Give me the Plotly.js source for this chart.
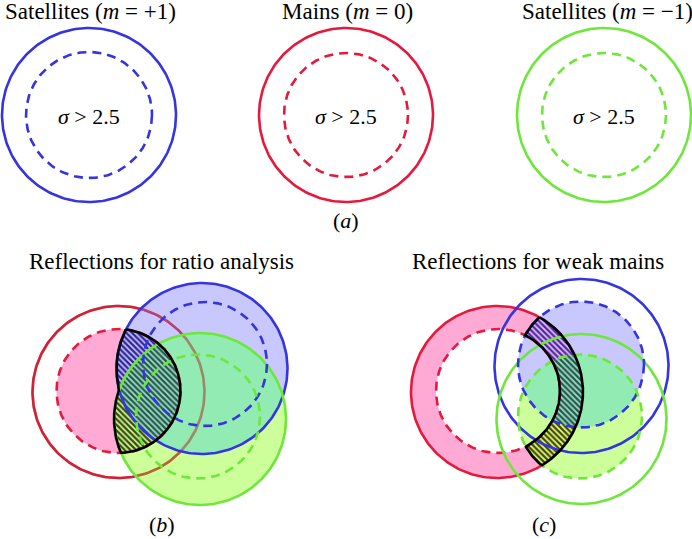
<!DOCTYPE html>
<html><head><meta charset="utf-8">
<script src="https://cdn.plot.ly/plotly-3.0.1.min.js"></script>
<style>html,body{margin:0;padding:0;background:#fff}</style>
</head><body><div id="chart" style="width:692px;height:539px"></div>
<script>
// ---------- data ----------
// Panel (a): three separate circle pairs [cx, cy, r]
const aTitles = ['Satellites (<i>m</i> = +1)', 'Mains (<i>m</i> = 0)', 'Satellites (<i>m</i> = \u22121)'];
const aTitleX = [90, 347, 607];
const aOuter = [[89, 115, 87], [346, 115, 87], [604, 115, 87]];
const aInner = [[89, 115, 63], [346, 115, 62], [604, 115, 62]];
const aKeys = ['blue', 'red', 'green'];
const aInnerLabel = '<i>\u03c3</i> &gt; 2.5';

// Panel (b): reflections for ratio analysis
const bRedOuter = [118.5, 392, 86];
const bRedInner = [118.5, 391, 62];
const bBlueOuter = [202, 368.5, 85.5];
const bBlueInner = [205, 364, 62];
const bGreenOuter = [200, 419, 86];
const bGreenInner = [198, 416.5, 62];

// Panel (c): reflections for weak mains
const cRedOuter = [497, 392, 86];
const cRedInner = [498, 391, 62];
const cBlueOuter = [581.5, 366, 87];
const cBlueInner = [581, 364.5, 63];
const cGreenOuter = [581.5, 419, 85];
const cGreenInner = [580, 416.5, 62];

const panelTitles = ['Reflections for ratio analysis', 'Reflections for weak mains'];
const panelTitleX = [161, 538];
const panelLabels = ['(<i>a</i>)', '(<i>b</i>)', '(<i>c</i>)'];
const panelLabelX = [346, 162, 544];
const panelLabelY = [220, 524, 524];

// ---------- styles ----------
const COL = {blue: '#3434e0', red: '#e6193c', green: '#6ee63a'};
const FILL = {
  pink: '#ffaad4',
  blue: 'rgba(145,145,255,0.5)',
  green: 'rgba(153,255,51,0.5)',
  both: 'rgba(120,240,200,0.55)'
};
const FONT = '"Liberation Serif", "DejaVu Serif", serif';
const LW = 2.6;
const DASH = '9px,6px';

// ---------- helpers ----------
function circlePts(c, n) {
  n = n || 240;
  const x = [], y = [];
  for (let i = 0; i <= n; i++) {
    const t = 2 * Math.PI * i / n;
    x.push(c[0] + c[2] * Math.cos(t));
    y.push(c[1] + c[2] * Math.sin(t));
  }
  return {x, y};
}
function span(c, y) {
  const dy = y - c[1];
  if (Math.abs(dy) >= c[2]) return null;
  const h = Math.sqrt(c[2] * c[2] - dy * dy);
  return [c[0] - h, c[0] + h];
}
function rowSpan(ops, y) {
  let I = [-1e9, 1e9];
  for (const [op, arg] of ops) {
    if (op === 'and') {
      const J = span(arg, y); if (!J) return null;
      I = [Math.max(I[0], J[0]), Math.min(I[1], J[1])];
    } else if (op === 'or') {
      const Js = arg.map(c => span(c, y)).filter(Boolean);
      if (!Js.length) return null;
      const J = [Math.min(...Js.map(j => j[0])), Math.max(...Js.map(j => j[1]))];
      I = [Math.max(I[0], J[0]), Math.min(I[1], J[1])];
    } else {
      const J = span(arg, y);
      if (J && J[1] > I[0] && J[0] < I[1]) {
        const left = [I[0], Math.min(I[1], J[0])];
        const right = [Math.max(I[0], J[1]), I[1]];
        const okL = left[1] - left[0] > 0, okR = right[1] - right[0] > 0;
        if (op === 'minusL') I = okL ? left : (okR ? right : null);
        else I = okR ? right : (okL ? left : null);
        if (!I) return null;
      }
    }
    if (I[1] - I[0] <= 0) return null;
  }
  return I;
}
function region(ops, close) {
  const runs = [];
  let cur = null;
  for (let y = 250; y <= 520; y += 0.25) {
    const I = rowSpan(ops, y);
    if (I) { if (!cur) { cur = []; runs.push(cur); } cur.push([y, I]); }
    else cur = null;
  }
  const x = [], yy = [];
  runs.forEach((run, k) => {
    if (k > 0) { x.push(null); yy.push(null); }
    run.forEach(([y, I]) => { x.push(I[0]); yy.push(y); });
    for (let i = run.length - 1; i >= 0; i--) { x.push(run[i][1][1]); yy.push(run[i][0]); }
    if (close) { x.push(run[0][1][0]); yy.push(run[0][0]); }
  });
  return {x, y: yy};
}

const traces = [];
function lineTrace(c, color, dash, opacity) {
  const p = circlePts(c);
  traces.push({type: 'scatter', mode: 'lines', x: p.x, y: p.y, hoverinfo: 'skip', showlegend: false,
    opacity: opacity == null ? 1 : opacity,
    line: {color: color, width: LW, dash: dash || 'solid'}});
}
function discFill(c, color) {
  const p = circlePts(c);
  traces.push({type: 'scatter', mode: 'lines', x: p.x, y: p.y, fill: 'toself', fillcolor: color,
    hoverinfo: 'skip', showlegend: false, line: {width: 0, color: 'rgba(0,0,0,0)'}});
}
function regionFill(ops, color) {
  const p = region(ops, false);
  traces.push({type: 'scatter', mode: 'lines', x: p.x, y: p.y, fill: 'toself', fillcolor: color,
    hoverinfo: 'skip', showlegend: false, line: {width: 0, color: 'rgba(0,0,0,0)'}});
}
function hatch(ops, bg, fg) {
  const p = region(ops, false);
  traces.push({type: 'scatter', mode: 'lines', x: p.x, y: p.y, fill: 'toself', fillcolor: bg,
    fillpattern: {shape: '\\', bgcolor: bg, fgcolor: fg, size: 4, solidity: 0.45},
    hoverinfo: 'skip', showlegend: false, line: {width: 0, color: 'rgba(0,0,0,0)'}});
}
function outline(ops) {
  const p = region(ops, true);
  traces.push({type: 'scatter', mode: 'lines', x: p.x, y: p.y, hoverinfo: 'skip', showlegend: false,
    line: {color: '#000', width: LW}});
}

// ---------- panel (a) ----------
aOuter.forEach((c, i) => {
  lineTrace(c, COL[aKeys[i]]);
  lineTrace(aInner[i], COL[aKeys[i]], DASH);
});

// ---------- panel (b) ----------
lineTrace(bRedOuter, COL.red);
discFill(bRedInner, FILL.pink);
discFill(bBlueOuter, FILL.blue);
discFill(bGreenOuter, FILL.green);
regionFill([['and', bBlueOuter], ['and', bGreenOuter]], FILL.both);
lineTrace(bRedOuter, '#b0302a', null, 0.45);
hatch([['and', bRedInner], ['and', bBlueOuter], ['minusL', bGreenOuter]], '#2e2494', '#c4c4ff');
hatch([['and', bRedInner], ['and', bBlueOuter], ['and', bGreenOuter]], '#2a5450', '#98e4c0');
hatch([['and', bRedInner], ['and', bGreenOuter], ['minusL', bBlueOuter]], '#36461a', '#d0ff88');
lineTrace(bRedInner, COL.red, DASH);
lineTrace(bBlueOuter, COL.blue);
lineTrace(bGreenOuter, COL.green);
lineTrace(bBlueInner, COL.blue, DASH);
lineTrace(bGreenInner, COL.green, DASH);
outline([['and', bRedInner], ['or', [bBlueOuter, bGreenOuter]]]);

// ---------- panel (c) ----------
discFill(cRedOuter, FILL.pink);
discFill(cRedInner, '#ffffff');
lineTrace(cRedOuter, COL.red);
discFill(cBlueInner, FILL.blue);
discFill(cGreenInner, FILL.green);
regionFill([['and', cBlueInner], ['and', cGreenInner]], FILL.both);
const ring = [['and', cRedOuter], ['minusR', cRedInner]];
hatch(ring.concat([['and', cBlueInner], ['minusL', cGreenInner]]), '#56269a', '#dcc4ff');
hatch(ring.concat([['and', cBlueInner], ['and', cGreenInner]]), '#2a5450', '#98e4c0');
hatch(ring.concat([['and', cGreenInner], ['minusL', cBlueInner]]), '#3c4812', '#eaff70');
lineTrace(cRedInner, COL.red, DASH);
lineTrace(cBlueOuter, COL.blue);
lineTrace(cGreenOuter, COL.green);
lineTrace(cBlueInner, COL.blue, DASH);
lineTrace(cGreenInner, COL.green, DASH);
outline(ring.concat([['or', [cBlueInner, cGreenInner]]]));

// ---------- text ----------
const annotations = [];
function txt(x, y, text, size) {
  annotations.push({x: x, y: y, xref: 'x', yref: 'y', text: text, showarrow: false,
    xanchor: 'center', yanchor: 'middle', font: {family: FONT, size: size, color: '#000'}});
}
aTitles.forEach((t, i) => txt(aTitleX[i], 11, t, 23));
aOuter.forEach(c => txt(c[0], 116, aInnerLabel, 22));
panelTitles.forEach((t, i) => txt(panelTitleX[i], 261, t, 23));
panelLabels.forEach((t, i) => txt(panelLabelX[i], panelLabelY[i], t, 22));

const layout = {
  width: 692, height: 539,
  margin: {l: 0, r: 0, t: 0, b: 0, pad: 0},
  paper_bgcolor: '#fff', plot_bgcolor: '#fff',
  font: {family: FONT},
  xaxis: {range: [0, 692], visible: false, fixedrange: true},
  yaxis: {range: [539, 0], visible: false, fixedrange: true},
  showlegend: false,
  annotations: annotations
};
Plotly.newPlot('chart', traces, layout, {displayModeBar: false, staticPlot: true});
</script>
</body></html>
